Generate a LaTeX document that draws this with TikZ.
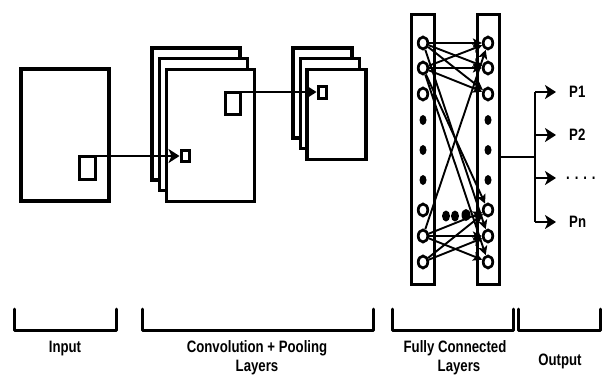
\documentclass[tikz,border=0pt]{standalone}
\usepackage{fontspec}
\setmainfont{Liberation Sans}
\usepackage{graphicx}
\usetikzlibrary{arrows.meta,shapes.geometric}
\newcommand\sqz[1]{\scalebox{0.8}[1]{#1}}
\begin{document}
\begin{tikzpicture}[x=1pt,y=-1pt,
  layer/.style={draw, line width=3.2pt, fill=white, inner sep=0pt, outer sep=0pt},
  win/.style={draw, line width=3pt, fill=white, inner sep=0pt, outer sep=0pt},
  col/.style={draw, line width=3pt, fill=white, inner sep=0pt, outer sep=0pt, minimum height=270pt},
  neuron/.style={ellipse, draw, line width=2.7pt, fill=white, inner sep=0pt, minimum width=9.5pt, minimum height=12pt},
  blob/.style={ellipse, fill=black, inner sep=0pt, minimum width=7pt, minimum height=10pt},
  flow/.style={line width=2.6pt, -{Stealth[length=11pt,width=14pt,inset=3pt]}},
  link/.style={line width=1.9pt, -{Stealth[length=9pt,width=9pt,inset=2pt]}},
  brk/.style={line width=3pt, line cap=round, line join=round},
  lab/.style={font=\fontsize{16.5}{18}\selectfont\bfseries, inner sep=0pt, anchor=base},
]
\useasboundingbox (0,0) rectangle (602,376);

% input
\node[layer, minimum width=88pt, minimum height=132pt] (inp) at (65,135) {};
\node[win, minimum width=16pt, minimum height=23pt] (isq) at (87,167.5) {};

% convolution stack
\node[layer, minimum width=88pt, minimum height=132pt] (cv1) at (196,114) {};
\node[layer, minimum width=88pt, minimum height=132pt] (cv2) at (203.5,124.5) {};
\node[layer, minimum width=88pt, minimum height=132pt] (cv3) at (210.5,135.5) {};
\node[win, minimum width=8pt, minimum height=11pt] (csqa) at (185,156) {};
\node[win, minimum width=15pt, minimum height=22pt] (csqb) at (232.5,103) {};

% pooling stack
\node[layer, minimum width=59pt, minimum height=90pt] (pl1) at (322.5,93) {};
\node[layer, minimum width=59pt, minimum height=90pt] (pl2) at (330,103.5) {};
\node[layer, minimum width=59pt, minimum height=90pt] (pl3) at (336.5,114.5) {};
\node[win, minimum width=8pt, minimum height=12pt] (psq) at (322,92) {};

\draw[flow, shorten >=1.5pt] (isq.north east) -- (csqa.west);
\draw[flow, shorten >=1.5pt] (csqb.north east) -- (psq.west);

% fully connected
\node[col, minimum width=23pt] (colL) at (422.5,149) {};
\node[col, minimum width=22pt] (colR) at (488.5,149) {};
\foreach \i/\y in {1/43,2/68,3/94,7/210,8/236,9/262}{
  \node[neuron] (L\i) at (423,\y) {};
  \node[neuron] (R\i) at (488,\y) {};
}
\foreach \i/\y in {4/120,5/150,6/180}{
  \node[blob] (L\i) at (423,\y) {};
  \node[blob] (R\i) at (488,\y) {};
}
\node[blob, minimum width=8pt, minimum height=11pt] (m1) at (446,216) {};
\node[blob, minimum width=8pt, minimum height=11pt] (m2) at (455,216) {};
\node[blob, minimum width=9pt, minimum height=12pt] (m3) at (466,215) {};
\foreach \a/\b in {1/1,1/2,1/3,2/1,2/2,2/3,1/8,2/7,2/9,8/1,8/7,8/8,8/9,9/7,9/8}
  \draw[link] (L\a) -- (R\b);

% output
\coordinate (j) at (535,157);
\coordinate (b1) at (535,92);
\coordinate (b2) at (535,135);
\coordinate (b3) at (535,178);
\coordinate (b4) at (535,222);
\draw[line width=2.6pt] (j -| colR.east) -- (j);
\draw[line width=2.6pt] (b1) -- (b4);
\node[lab, anchor=west] (p1) at (569,92) {\sqz{P1}};
\node[lab, anchor=west] (p2) at (569,135) {\sqz{P2}};
\node[lab, anchor=west] (p3) at (566,178) {\sqz{. . . .}};
\node[lab, anchor=west] (p4) at (569,222) {\sqz{Pn}};
\draw[flow, shorten >=13pt] (b1) -- (p1.west);
\draw[flow, shorten >=13pt] (b2) -- (p2.west);
\draw[flow, shorten >=10pt] (b3) -- (p3.west);
\draw[flow, shorten >=13pt] (b4) -- (p4.west);

% brackets
\draw[brk] (14,309) -- (14,330) -- (116,330) -- (116,309);
\draw[brk] (142,309) -- (142,330) -- (373,330) -- (373,309);
\draw[brk] (392,309) -- (392,330) -- (513,330) -- (513,309);
\draw[brk] (518,309) -- (518,330) -- (600,330) -- (600,309);

% labels
\node[lab] (t1) at (65,352) {\sqz{Input}};
\node[lab] (t2) at (257,352) {\sqz{Convolution + Pooling}};
\node[lab] (t2b) at (257,371.5) {\sqz{Layers}};
\node[lab] (t3) at (455,352) {\sqz{Fully Connected}};
\node[lab] (t3b) at (459,371.5) {\sqz{Layers}};
\node[lab] (t4) at (560,365) {\sqz{Output}};
\end{tikzpicture}
\end{document}
